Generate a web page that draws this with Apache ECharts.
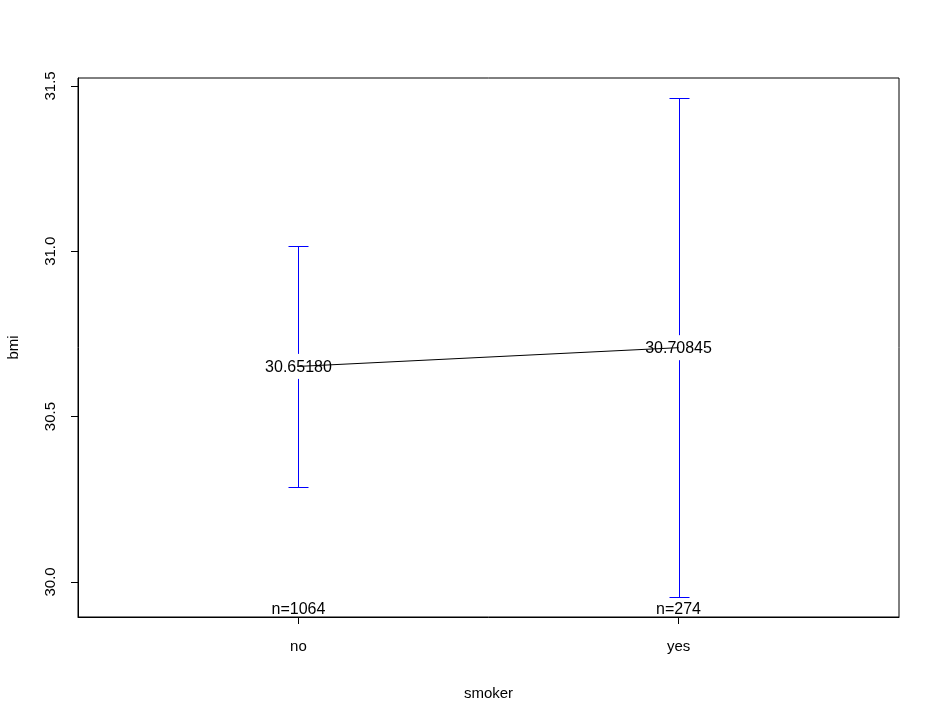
<!DOCTYPE html>
<html>
<head>
<meta charset="utf-8">
<script src="https://cdn.jsdelivr.net/npm/echarts@6/dist/echarts.min.js"></script>
<style>
  html, body { margin: 0; padding: 0; background: #fff; }
  #chart { width: 940px; height: 715px; }
</style>
</head>
<body>
<div id="chart"></div>
<script>
// data
const categories = ['no', 'yes']
const means = [30.65180, 30.70845]
const ciLower = [30.287, 29.953]
const ciUpper = [31.016, 31.464]
const counts = [1064, 274]
const yTicks = [30.0, 30.5, 31.0, 31.5]

const yMin = 29.894
const yMax = 31.524
const font = 'Liberation Sans, Arial, sans-serif'

const chart = echarts.init(document.getElementById('chart'))

const barData = categories.map((c, i) => [i + 1, ciLower[i], ciUpper[i], means[i]])

// snap to pixel centre so 1px lines stay sharp
const px = v => Math.round(v) + 0.5

const option = {
  animation: false,
  backgroundColor: '#fff',
  grid: {
    left: 78, right: 41, top: 78, bottom: 98,
    outerBoundsMode: 'none',
    containLabel: false,
    show: true, borderColor: '#000', borderWidth: 1, backgroundColor: 'transparent'
  },
  xAxis: {
    type: 'value',
    min: 0.42,
    max: 2.58,
    name: 'smoker',
    nameLocation: 'middle',
    nameGap: 69,
    nameTextStyle: { fontFamily: font, fontSize: 15, color: '#000' },
    axisLine: { show: true, onZero: false, lineStyle: { color: '#000', width: 1 } },
    axisTick: { show: true, length: 7, customValues: [1, 2], lineStyle: { color: '#000' } },
    axisLabel: {
      customValues: [1, 2],
      margin: 22,
      fontFamily: font, fontSize: 15, color: '#000',
      formatter: v => categories[Math.round(v) - 1] || ''
    },
    splitLine: { show: false }
  },
  yAxis: {
    type: 'value',
    min: yMin,
    max: yMax,
    name: 'bmi',
    nameLocation: 'middle',
    nameGap: 57,
    nameRotate: 90,
    nameTextStyle: { fontFamily: font, fontSize: 15, color: '#000' },
    axisLine: { show: true, lineStyle: { color: '#000', width: 1 } },
    axisTick: { show: true, length: 7, customValues: yTicks, lineStyle: { color: '#000' } },
    axisLabel: {
      customValues: yTicks,
      rotate: 90,
      margin: 20,
      fontFamily: font, fontSize: 15, color: '#000',
      formatter: v => v.toFixed(1)
    },
    splitLine: { show: false }
  },
  series: [
    {
      type: 'line',
      data: means.map((m, i) => [i + 1, m]),
      symbol: 'none',
      lineStyle: { color: '#000', width: 1 },
      z: 2
    },
    {
      type: 'custom',
      data: barData,
      z: 3,
      renderItem: function (params, api) {
        const x = api.value(0)
        const lo = api.coord([x, api.value(1)])
        const hi = api.coord([x, api.value(2)])
        const mid = api.coord([x, api.value(3)])
        const gap = 12.5
        const cap = 10
        const cx = px(hi[0])
        const yHi = px(hi[1])
        const yLo = px(lo[1])
        const style = { stroke: '#0000ff', lineWidth: 1 }
        return {
          type: 'group',
          children: [
            { type: 'line', shape: { x1: cx, y1: yHi, x2: cx, y2: mid[1] - gap }, style },
            { type: 'line', shape: { x1: cx, y1: mid[1] + gap, x2: cx, y2: yLo }, style },
            { type: 'line', shape: { x1: cx - cap, y1: yHi, x2: cx + cap, y2: yHi }, style },
            { type: 'line', shape: { x1: cx - cap, y1: yLo, x2: cx + cap, y2: yLo }, style },
            {
              type: 'text',
              style: {
                x: mid[0], y: mid[1] + 1,
                text: api.value(3).toFixed(5),
                align: 'center', verticalAlign: 'middle',
                font: '16px ' + font, fill: '#000'
              }
            }
          ]
        }
      }
    },
    {
      type: 'custom',
      data: counts.map((n, i) => [i + 1, n]),
      z: 4,
      renderItem: function (params, api) {
        const p = api.coord([api.value(0), yMin])
        return {
          type: 'text',
          style: {
            x: p[0], y: p[1] + 1,
            text: 'n=' + api.value(1),
            align: 'center', verticalAlign: 'bottom',
            font: '16px ' + font, fill: '#000'
          }
        }
      }
    }
  ]
}

chart.setOption(option)
</script>
</body>
</html>
